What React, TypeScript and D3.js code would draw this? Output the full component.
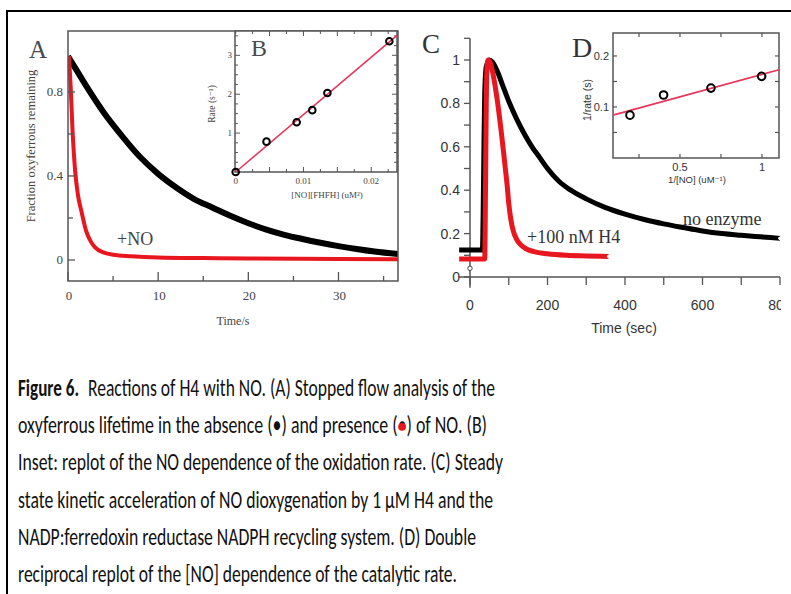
import React, { useLayoutEffect, useRef, useState } from 'react';
import * as d3 from 'd3';

// ---------- Panel A : stopped-flow traces ----------
const aTimeBlack = [0, 1, 2, 4, 6, 8, 10, 12, 14, 16, 18, 20, 22, 24, 26, 28, 30, 32, 34, 36.6];
const aFracBlack = [0.97, 0.9, 0.83, 0.7, 0.59, 0.49, 0.41, 0.345, 0.29, 0.25, 0.21, 0.175, 0.145, 0.12, 0.1, 0.082, 0.066, 0.052, 0.04, 0.028];
const aTimeRed = [0.1, 0.3, 0.5, 0.8, 1.1, 1.5, 2.0, 2.5, 3.0, 4, 5, 7, 10, 15, 20, 30, 36.6];
const aFracRed = [0.97, 0.82, 0.62, 0.42, 0.31, 0.23, 0.14, 0.09, 0.06, 0.035, 0.025, 0.018, 0.012, 0.009, 0.007, 0.005, 0.004];
const aXTicks = [0, 5, 10, 15, 20, 25, 30, 35];
const aXLabels = [0, 10, 20, 30];
const aYTicks = [0, 0.2, 0.4, 0.6, 0.8];
const aYLabels = [0, 0.4, 0.8];

// ---------- Inset B : rate vs [NO][FHFH] ----------
const bConc = [0, 0.00455, 0.009, 0.0113, 0.01353, 0.02267];
const bRate = [0, 0.78, 1.28, 1.59, 2.03, 3.36];
const bFitConc = [0, 0.0238];
const bFitRate = [0, 3.51];
const bXTicks = [0, 0.0025, 0.005, 0.0075, 0.01, 0.0125, 0.015, 0.0175, 0.02, 0.0225];
const bXLabels = [0, 0.01, 0.02];
const bYTicks = [0.25, 0.5, 0.75, 1, 1.25, 1.5, 1.75, 2, 2.25, 2.5, 2.75, 3, 3.25, 3.5];
const bYLabels = [1, 2, 3];

// ---------- Panel C : NO dioxygenation traces ----------
const cTimeBlack = [-28, 32, 34, 36, 38, 42, 50, 58, 70, 85, 100, 120, 140, 160, 180, 200, 230, 260, 300, 350, 400, 450, 500, 550, 600, 650, 700, 750, 800];
const cSigBlack = [0.124, 0.124, 0.3, 0.6, 0.85, 0.97, 1.0, 0.99, 0.95, 0.88, 0.81, 0.73, 0.66, 0.6, 0.55, 0.5, 0.44, 0.4, 0.36, 0.32, 0.29, 0.265, 0.245, 0.228, 0.212, 0.2, 0.192, 0.185, 0.178];
const cTimeRed = [-28, 38, 40, 42, 44, 47, 52, 60, 70, 80, 90, 96, 100, 105, 112, 120, 130, 145, 165, 200, 250, 300, 358];
const cSigRed = [0.083, 0.083, 0.4, 0.8, 0.97, 1.0, 0.99, 0.93, 0.82, 0.68, 0.52, 0.42, 0.34, 0.27, 0.21, 0.175, 0.15, 0.13, 0.117, 0.107, 0.1, 0.097, 0.094];
const cBlankTime = [0];
const cBlankSig = [0.04];
const cXTicks = [0, 100, 200, 300, 400, 500, 600, 700, 800];
const cXLabels = [0, 200, 400, 600, 800];
const cYTicks = [0, 0.1, 0.2, 0.3, 0.4, 0.5, 0.6, 0.7, 0.8, 0.9, 1.0, 1.1];
const cYLabels = [0, 0.2, 0.4, 0.6, 0.8, 1];

// ---------- Inset D : double reciprocal ----------
const dInvNO = [0.195, 0.4, 0.689, 0.998];
const dInvRate = [0.084, 0.1235, 0.137, 0.16];
const dFitX = [0.0915, 1.104];
const dFitY = [0.084, 0.173];
const dXTicks = [0.25, 0.5, 0.75, 1.0];
const dXLabels = [0.5, 1];
const dYTicks = [0.05, 0.1, 0.15, 0.2];
const dYLabels = [0.1, 0.2];

// ---------- Caption ----------
const captionBold = 'Figure 6.';
const captionLines = [
  'Reactions of H4 with NO. (A) Stopped flow analysis of the',
  'oxyferrous lifetime in the absence (\u2022) and presence (\u2022) of NO. (B)',
  'Inset: replot of the NO dependence of the oxidation rate. (C) Steady',
  'state kinetic acceleration of NO dioxygenation by 1 \u00B5M H4 and the',
  'NADP:ferredoxin reductase NADPH recycling system. (D) Double',
  'reciprocal replot of the [NO] dependence of the catalytic rate.',
];
const captionStarts = [88, 18, 18, 18, 18, 18];
const captionEnds = [495, 487, 503, 493, 476, 457];

const SERIF = "'Liberation Serif', 'DejaVu Serif', 'Times New Roman', serif";
const SANS = "'Liberation Sans', Arial, 'DejaVu Sans', sans-serif";
const RED = '#e8161e';
const FIT = '#e83458';
const AX = '#555';

const zip = (xs: number[], ys: number[]) => xs.map((x, i) => [x, ys[i]] as [number, number]);

function Caption() {
  const fs = 23.5;
  const line2Ref = useRef<SVGTextElement | null>(null);
  const [redDot, setRedDot] = useState<{ x: number; y: number } | null>(null);
  const y0 = 396;
  const dy = 37.2;

  useLayoutEffect(() => {
    const el = line2Ref.current;
    if (!el) return;
    const s = captionLines[1];
    const idx = s.lastIndexOf('\u2022');
    try {
      const ext = el.getExtentOfChar(idx);
      setRedDot({ x: ext.x + ext.width / 2, y: y0 + dy - fs * 0.27 });
    } catch (e) {
      /* ignore */
    }
  }, []);

  return (
    <g fontFamily="Carlito, Calibri, Lato, 'Open Sans', sans-serif" fontSize={fs} fill="#111">
      <text x={18} y={y0} fontWeight="bold" textLength={61} lengthAdjust="spacingAndGlyphs">{captionBold}</text>
      {captionLines.map((l, i) => (
        <text key={i} ref={i === 1 ? line2Ref : undefined} x={captionStarts[i]} y={y0 + i * dy}
          textLength={captionEnds[i] - captionStarts[i]} lengthAdjust="spacingAndGlyphs">
          {l}
        </text>
      ))}
      {redDot && <circle cx={redDot.x} cy={redDot.y} r={3.9} fill={RED} />}
    </g>
  );
}

export default function App() {
  // Panel A scales
  const ax = d3.scaleLinear().domain([0, 36.6]).range([68, 398]);
  const ay = d3.scaleLinear().domain([-0.1, 1.09]).range([281, 31]);
  // Inset B
  const bx = d3.scaleLinear().domain([-0.0001, 0.0238]).range([235, 397]);
  const by = d3.scaleLinear().domain([0, 3.625]).range([172, 31]);
  // Panel C
  const cx = d3.scaleLinear().domain([0, 800]).range([470, 780]);
  const cy = d3.scaleLinear().domain([0, 1]).range([277, 60]);
  // Inset D
  const dx = d3.scaleLinear().domain([0.0915, 1.104]).range([613, 779]);
  const dy = d3.scaleLinear().domain([0, 0.245]).range([158, 33]);

  const lineA = d3.line<[number, number]>().x(d => ax(d[0])).y(d => ay(d[1])).curve(d3.curveMonotoneX);
  const lineC = d3.line<[number, number]>().x(d => cx(d[0])).y(d => cy(d[1])).curve(d3.curveMonotoneX);
  const lineB = d3.line<[number, number]>().x(d => bx(d[0])).y(d => by(d[1]));
  const lineD = d3.line<[number, number]>().x(d => dx(d[0])).y(d => dy(d[1]));

  const [ax0, ax1] = ax.range();
  const [ay0, ay1] = ay.range();
  const [bx0, bx1] = bx.range();
  const [by0, by1] = by.range();
  const [dx0, dx1] = dx.range();
  const [dy0, dy1] = dy.range();

  const blackC = zip(cTimeBlack, cSigBlack);
  const redC = zip(cTimeRed, cSigRed);

  return (
    <svg width={791} height={594} style={{ position: 'absolute', left: 0, top: 0, background: '#fff' }}>
      <defs>
        <clipPath id="clipRight"><rect x={0} y={0} width={781} height={594} /></clipPath>
        <clipPath id="clipA"><rect x={ax0} y={ay1} width={ax1 - ax0} height={ay0 - ay1} /></clipPath>
      </defs>
      <rect x={0} y={0} width={791} height={594} fill="#fff" />
      {/* outer frame */}
      <path d="M7,594 V11 H791" fill="none" stroke="#000" strokeWidth={2} />

      {/* ================= Panel A ================= */}
      <g>
        <g clipPath="url(#clipA)">
          <path d={lineA(zip(aTimeBlack, aFracBlack)) || ''} fill="none" stroke="#000" strokeWidth={6} strokeLinejoin="round" />
          <path d={lineA(zip(aTimeRed, aFracRed)) || ''} fill="none" stroke={RED} strokeWidth={4} strokeLinejoin="round" />
        </g>
        <rect x={ax0} y={ay1} width={ax1 - ax0} height={ay0 - ay1} fill="none" stroke={AX} strokeWidth={1.5} />
        {aYTicks.map(v => (
          <line key={'ayt' + v} x1={ax0} x2={ax0 + (aYLabels.includes(v) ? 7 : 5)} y1={ay(v)} y2={ay(v)} stroke={AX} strokeWidth={1.3} />
        ))}
        {aXTicks.map(v => (
          <line key={'axt' + v} x1={ax(v)} x2={ax(v)} y1={ay0} y2={ay0 - (aXLabels.includes(v) ? 9 : 5)} stroke={AX} strokeWidth={1.3} />
        ))}
        <g fontFamily={SERIF} fontSize={13} fill="#444">
          {aYLabels.map(v => (
            <text key={'ayl' + v} x={ax0 - 5} y={ay(v) + 4.5} textAnchor="end">{String(v)}</text>
          ))}
          {aXLabels.map(v => (
            <text key={'axl' + v} x={ax(v) + 1} y={300} textAnchor="middle">{String(v)}</text>
          ))}
          <text x={233} y={325} textAnchor="middle" fontSize={12}>Time/s</text>
          <text transform="translate(35,146) rotate(-90)" textAnchor="middle" fontSize={12.5}>Fraction oxyferrous remaining</text>
          <text x={117} y={245} fontSize={18} fill="#444">+NO</text>
          <text x={29} y={58} fontSize={25} fill="#4a4a4a">A</text>
        </g>

        {/* ---------- Inset B ---------- */}
        <rect x={bx0} y={by1} width={bx1 - bx0} height={by0 - by1} fill="#fff" stroke={AX} strokeWidth={1.5} />
        {bYTicks.map(v => {
          const len = bYLabels.includes(v) ? 5 : 3;
          return (
            <g key={'byt' + v}>
              <line x1={bx0} x2={bx0 + len} y1={by(v)} y2={by(v)} stroke={AX} strokeWidth={1} />
              <line x1={bx1} x2={bx1 - len} y1={by(v)} y2={by(v)} stroke={AX} strokeWidth={1} />
            </g>
          );
        })}
        {bXTicks.map(v => {
          const len = [0.005, 0.01, 0.015, 0.02].includes(v) ? 5 : 3;
          return (
            <g key={'bxt' + v}>
              <line x1={bx(v)} x2={bx(v)} y1={by0} y2={by0 - len} stroke={AX} strokeWidth={1} />
              <line x1={bx(v)} x2={bx(v)} y1={by1} y2={by1 + len} stroke={AX} strokeWidth={1} />
            </g>
          );
        })}
        <path d={lineB(zip(bFitConc, bFitRate)) || ''} fill="none" stroke={FIT} strokeWidth={1.6} />
        {bConc.map((c, i) => (
          <circle key={'bp' + i} cx={bx(c)} cy={by(bRate[i])} r={3.3} fill="none" stroke="#000" strokeWidth={2} />
        ))}
        <g fontFamily={SERIF} fontSize={9} fill="#444">
          {bYLabels.map(v => (
            <text key={'byl' + v} x={bx0 - 3} y={by(v) + 3} textAnchor="end">{String(v)}</text>
          ))}
          {bXLabels.map(v => (
            <text key={'bxl' + v} x={bx(v)} y={184} textAnchor="middle">{String(v)}</text>
          ))}
          <text x={327} y={198} textAnchor="middle">[NO][FHFH] (uM²)</text>
          <text transform="translate(215,104) rotate(-90)" textAnchor="middle" fontSize={9.5}>Rate (s⁻¹)</text>
          <text x={251} y={56} fontSize={24} fill="#4a4a4a">B</text>
        </g>
      </g>

      {/* ================= Panel C ================= */}
      <g clipPath="url(#clipRight)">
        {/* axes */}
        <line x1={cx(0)} x2={cx(0)} y1={cy(-0.05)} y2={cy(1.1)} stroke={AX} strokeWidth={1.5} />
        <line x1={cx(-28)} x2={cx(800)} y1={cy(0)} y2={cy(0)} stroke={AX} strokeWidth={1.5} />
        {cYTicks.map(v => (
          <line key={'cyt' + v} x1={cx(0)} x2={cx(0) - 6} y1={cy(v)} y2={cy(v)} stroke={AX} strokeWidth={1.3} />
        ))}
        {cXTicks.map(v => (
          <line key={'cxt' + v} x1={cx(v)} x2={cx(v)} y1={cy(0)} y2={cy(0) + 8} stroke={AX} strokeWidth={1.3} />
        ))}
        <g fontFamily={SANS} fontSize={14} fill="#333">
          {cYLabels.map(v => (
            <text key={'cyl' + v} x={cx(0) - 10} y={cy(v) + 5} textAnchor="end">{String(v)}</text>
          ))}
          {cXLabels.map(v => (
            <text key={'cxl' + v} x={cx(v)} y={310} textAnchor="middle">{String(v)}</text>
          ))}
          <text x={624} y={333} textAnchor="middle">Time (sec)</text>
        </g>
        {/* traces */}
        <path d={lineC(blackC) || ''} fill="none" stroke="#000" strokeWidth={5} strokeLinejoin="round" />
        <path d={lineC(redC) || ''} fill="none" stroke={RED} strokeWidth={5} strokeLinejoin="round" />
        <circle cx={cx(blackC[blackC.length - 1][0])} cy={cy(blackC[blackC.length - 1][1])} r={1.8} fill="#fff" />
        <circle cx={cx(redC[redC.length - 1][0])} cy={cy(redC[redC.length - 1][1])} r={1.8} fill="#fff" />
        {cBlankTime.map((t, i) => (
          <circle key={'cb' + i} cx={cx(t)} cy={cy(cBlankSig[i])} r={2.2} fill="#fff" stroke="#444" strokeWidth={1} />
        ))}
        <g fontFamily={SERIF} fontSize={18} fill="#333">
          <text x={527} y={243}>+100 nM H4</text>
          <text x={683} y={225}>no enzyme</text>
          <text x={422} y={53} fontSize={27}>C</text>
        </g>

        {/* ---------- Inset D ---------- */}
        <rect x={dx0} y={dy1} width={dx1 - dx0} height={dy0 - dy1} fill="#fff" stroke={AX} strokeWidth={1.5} />
        {dYTicks.map(v => (
          <g key={'dyt' + v}>
            <line x1={dx0} x2={dx0 + 4} y1={dy(v)} y2={dy(v)} stroke={AX} strokeWidth={1.2} />
            <line x1={dx1} x2={dx1 - 4} y1={dy(v)} y2={dy(v)} stroke={AX} strokeWidth={1.2} />
          </g>
        ))}
        {dXTicks.map(v => (
          <g key={'dxt' + v}>
            <line x1={dx(v)} x2={dx(v)} y1={dy0} y2={dy0 - 4} stroke={AX} strokeWidth={1.2} />
            <line x1={dx(v)} x2={dx(v)} y1={dy1} y2={dy1 + 4} stroke={AX} strokeWidth={1.2} />
          </g>
        ))}
        <path d={lineD(zip(dFitX, dFitY)) || ''} fill="none" stroke={FIT} strokeWidth={1.6} />
        {dInvNO.map((x, i) => (
          <circle key={'dp' + i} cx={dx(x)} cy={dy(dInvRate[i])} r={3.8} fill="none" stroke="#000" strokeWidth={2} />
        ))}
        <g fontFamily={SANS} fontSize={11} fill="#333">
          {dYLabels.map(v => (
            <text key={'dyl' + v} x={dx0 - 4} y={dy(v) + 4} textAnchor="end">{String(v)}</text>
          ))}
          {dXLabels.map(v => (
            <text key={'dxl' + v} x={dx(v)} y={171} textAnchor="middle">{String(v)}</text>
          ))}
          <text x={697} y={183} textAnchor="middle" fontSize={9.5}>1/[NO] (uM⁻¹)</text>
          <text transform="translate(591,100) rotate(-90)" textAnchor="middle" fontSize={10.5}>1/rate (s)</text>
        </g>
        <text x={572} y={57} fontFamily={SERIF} fontSize={28} fill="#333">D</text>
      </g>

      <Caption />
    </svg>
  );
}
